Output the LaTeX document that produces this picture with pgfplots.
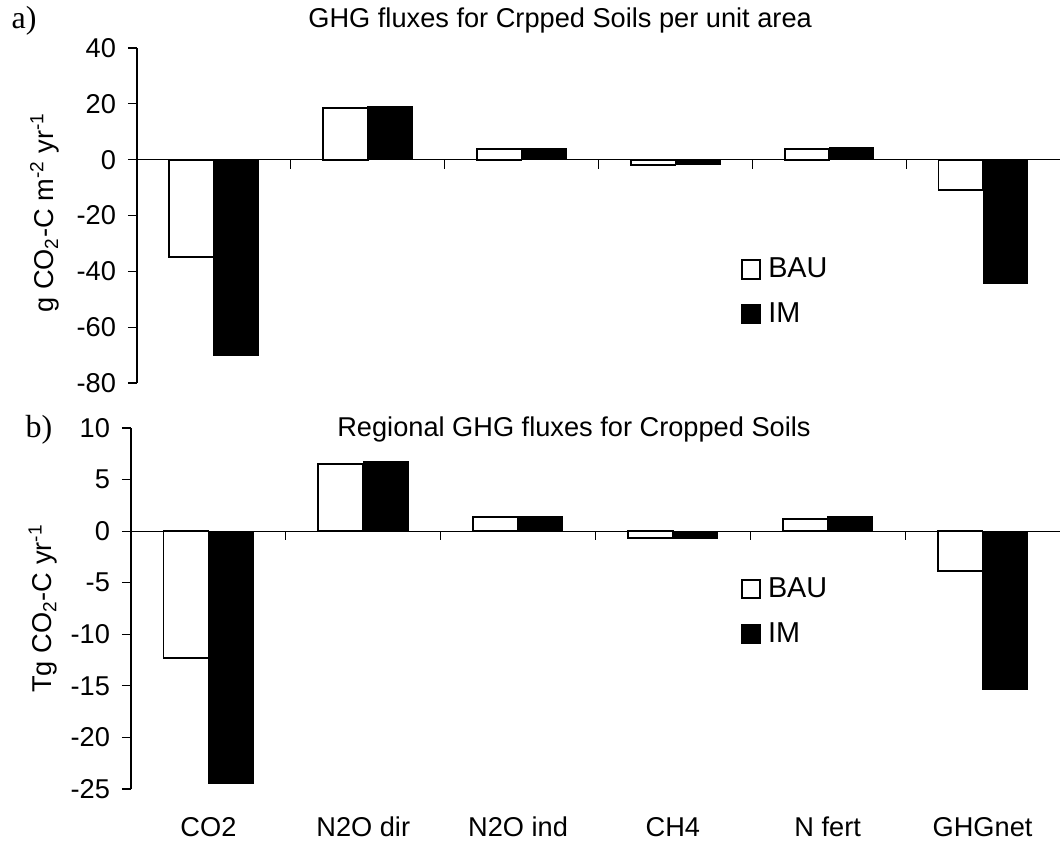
\documentclass[border=0pt]{standalone}
\usepackage{pgfplots}
\pgfplotsset{compat=1.18}
\usepackage{fontspec}
\setmainfont{Liberation Sans}
\newfontfamily\timesfont{Liberation Serif}
\begin{document}
\begin{tikzpicture}
\useasboundingbox (0pt,0pt) rectangle (530pt,-422pt);
\pgfplotsset{
  myaxis/.style={
    scale only axis,
    axis y line*=left,
    axis x line*=bottom,
    x axis line style={draw=none},
    y axis line style={line width=0.6pt, black},
    xmin=-0.5, xmax=5.5,
    ybar, bar width=0.29,
    ytick align=outside,
    major tick length=4.5pt,
    ytick style={line width=0.6pt, black},
    xtick style={draw=none},
    tick label style={font=\fontsize{13.6}{15}\selectfont},
    yticklabel style={xshift=-2.5pt},
    /pgf/number format/assume math mode=true,
    label style={font=\fontsize{13.6}{15}\selectfont},
    title style={font=\fontsize{13.6}{15}\selectfont, anchor=base west, inner xsep=0pt},
    legend image code/.code={\draw[#1, line width=0.9pt] (0pt,-4.6pt) rectangle (9.2pt,4.6pt);},
    legend style={draw=none, fill=none, font=\fontsize{14.4}{16}\selectfont,
      inner sep=0pt, row sep=7pt, legend cell align=left,
      nodes={inner xsep=3.5pt}},
  },
  bau/.style={draw=black, fill=white, line width=0.9pt, bar shift=-0.145},
  im/.style={draw=black, fill=black, line width=0.5pt, bar shift=0.145},
}
\node[font=\timesfont\fontsize{16}{18}\selectfont] at (12pt,-10.5pt) {a)};
\node[font=\timesfont\fontsize{16}{18}\selectfont] at (19.5pt,-215pt) {b)};

% Panel a
\begin{axis}[myaxis,
  at={(68.5pt,-191.5pt)}, anchor=south west,
  width=461.5pt, height=167.5pt,
  ymin=-80, ymax=40, ytick={-80,-60,...,40},
  xtick=\empty,
  title={GHG fluxes for Crpped Soils per unit area},
  title style={at={(axis description cs:0.1853,1)}, yshift=4pt},
  ylabel={g CO\textsubscript{2}-C m\textsuperscript{-2} yr\textsuperscript{-1}},
  ylabel style={at={(axis description cs:-0.100,0.509)}, anchor=center},
  legend style={at={(axis description cs:0.654,0.386)}, anchor=north west},
]
\addplot[bau] coordinates {(0,-35) (1,18.4) (2,3.9) (3,-1.8) (4,3.9) (5,-10.9)};
\addplot[im] coordinates {(0,-70) (1,19.1) (2,4.0) (3,-1.8) (4,4.4) (5,-44.3)};
\legend{BAU,IM}
\draw[line width=0.6pt] (axis cs:-0.5,0) -- (axis cs:5.5,0);
\pgfplotsinvokeforeach{0.5,1.5,2.5,3.5,4.5}{\draw[line width=0.6pt] (axis cs:#1,0) -- ++(0pt,-4.5pt);}
\end{axis}

% Panel b
\begin{axis}[myaxis,
  at={(65.5pt,-394.5pt)}, anchor=south west,
  width=464.5pt, height=180.5pt,
  ymin=-25, ymax=10, ytick={-25,-20,...,10},
  xtick={0,...,5},
  xticklabels={CO2,N2O dir,N2O ind,CH4,N fert,GHGnet},
  xticklabel style={yshift=-6pt},
  title={Regional GHG fluxes for Cropped Soils},
  title style={at={(axis description cs:0.2217,1)}, yshift=-10.3pt},
  ylabel={Tg CO\textsubscript{2}-C yr\textsuperscript{-1}},
  ylabel style={at={(axis description cs:-0.0947,0.5)}, anchor=center},
  legend style={at={(axis description cs:0.656,0.598)}, anchor=north west},
]
\addplot[bau] coordinates {(0,-12.3) (1,6.5) (2,1.4) (3,-0.7) (4,1.2) (5,-3.9)};
\addplot[im] coordinates {(0,-24.5) (1,6.8) (2,1.45) (3,-0.7) (4,1.45) (5,-15.4)};
\legend{BAU,IM}
\draw[line width=0.6pt] (axis cs:-0.5,0) -- (axis cs:5.5,0);
\pgfplotsinvokeforeach{0.5,1.5,2.5,3.5,4.5}{\draw[line width=0.6pt] (axis cs:#1,0) -- ++(0pt,-4.5pt);}
\end{axis}
\end{tikzpicture}
\end{document}
